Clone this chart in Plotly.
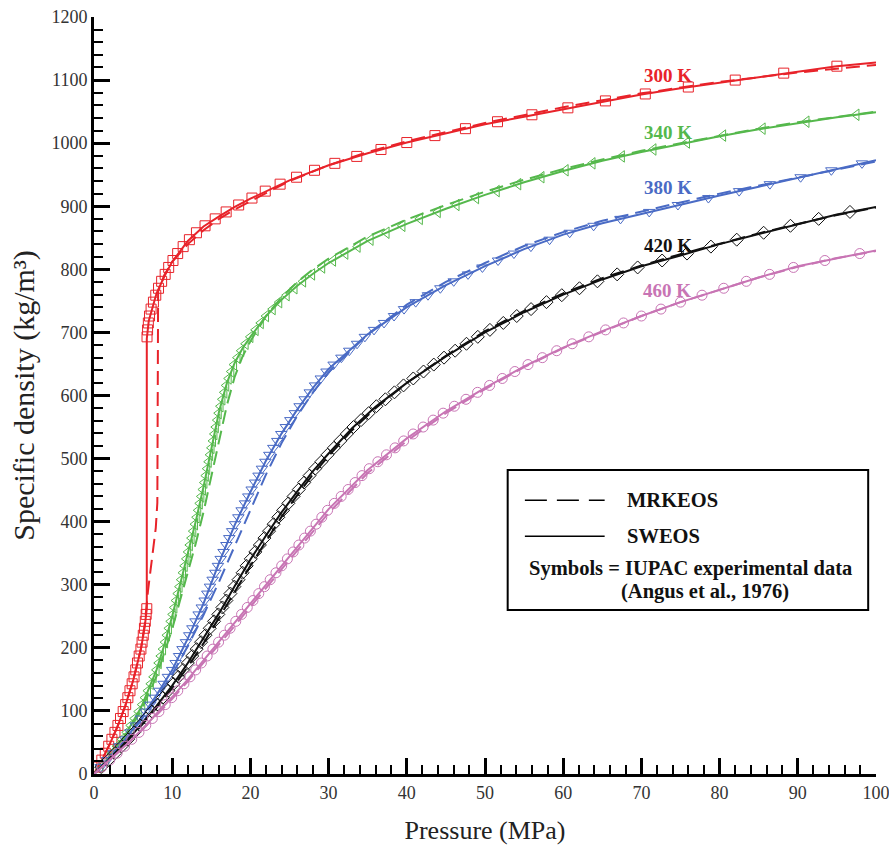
import plotly.graph_objects as go

# ---------------- data ----------------
TEMPS = ["300 K", "340 K", "380 K", "420 K", "460 K"]
COLORS = ["#e8232a", "#55b84c", "#4a6bc5", "#111111", "#c874b4"]
SYMBOLS = ["square-open", "triangle-left-open", "triangle-down-open", "diamond-open", "circle-open"]

# SWEOS (solid lines): pressure (MPa), density (kg/m3)
SW_P_300 = [0, 1, 2, 3, 4, 5, 6, 6.5, 6.75, 6.75, 7, 8, 9, 10, 12, 14, 16, 18, 20, 25, 30, 35, 40, 45, 50, 55, 60, 65, 70, 75, 80, 85, 90, 95, 100]
SW_R_300 = [0, 22, 47, 75, 108, 148, 198, 235, 262, 690, 718, 762, 789, 812, 845, 868, 884, 899, 912, 941, 965, 984, 1001, 1016, 1030, 1042, 1054, 1066, 1077, 1087, 1096, 1105, 1114, 1122, 1128]
SW_P_340 = [0, 2, 4, 6, 8, 9, 10, 11, 12, 13, 14, 15, 16, 17, 18, 19, 20, 22, 24, 26, 28, 30, 35, 40, 45, 50, 55, 60, 65, 70, 75, 80, 85, 90, 95, 100]
SW_R_340 = [0, 28, 62, 105, 165, 205, 250, 300, 350, 400, 455, 515, 575, 620, 652, 675, 693, 726, 752, 774, 793, 810, 845, 872, 896, 918, 938, 956, 972, 986, 999, 1011, 1022, 1032, 1041, 1049]
SW_P_380 = [0, 2, 4, 6, 8, 10, 12, 14, 16, 18, 20, 22, 24, 26, 28, 30, 35, 40, 45, 50, 55, 60, 65, 70, 75, 80, 85, 90, 95, 100]
SW_R_380 = [0, 26, 55, 88, 125, 165, 215, 270, 335, 395, 447, 497, 540, 578, 612, 642, 697, 740, 775, 805, 832, 855, 873, 888, 903, 917, 931, 945, 959, 973]
SW_P_420 = [0, 2, 4, 6, 8, 10, 12, 14, 16, 18, 20, 22, 24, 26, 28, 30, 33, 36, 40, 45, 50, 55, 60, 65, 70, 75, 80, 85, 90, 95, 100]
SW_R_420 = [0, 24, 50, 78, 108, 140, 176, 215, 255, 298, 340, 378, 415, 448, 480, 508, 548, 582, 620, 662, 700, 732, 760, 784, 805, 822, 840, 856, 872, 887, 899]
SW_P_460 = [0, 2, 4, 6, 8, 10, 12, 14, 16, 18, 20, 22, 24, 26, 28, 30, 35, 40, 45, 50, 55, 60, 65, 70, 75, 80, 85, 90, 95, 100]
SW_R_460 = [0, 22, 45, 69, 95, 122, 150, 180, 210, 240, 270, 300, 330, 360, 390, 420, 482, 532, 575, 612, 646, 676, 702, 726, 748, 768, 787, 805, 818, 830]

# MRKEOS (dashed lines)
MRK_P_300 = [0, 1, 2, 3, 4, 5, 6, 6.5, 6.9, 7.5, 7.9, 8.1, 8.12, 8.2, 9, 10, 12, 14, 16, 18, 20, 25, 30, 35, 40, 45, 50, 60, 70, 80, 90, 100]
MRK_R_300 = [0, 22, 47, 75, 108, 148, 198, 238, 290, 345, 390, 430, 700, 765, 791, 812, 840, 862, 880, 895, 908, 940, 965, 986, 1003, 1018, 1032, 1057, 1079, 1097, 1112, 1124]
MRK_P_340 = [0, 2, 4, 6, 8, 10, 11, 12, 13, 14, 15, 16, 17, 18, 19, 20, 22, 24, 26, 28, 30, 35, 40, 45, 50, 55, 60, 65, 70, 75, 80, 85, 90, 95, 100]
MRK_R_340 = [0, 27, 60, 100, 155, 230, 275, 320, 365, 415, 470, 530, 585, 630, 662, 686, 726, 756, 780, 800, 817, 852, 879, 902, 923, 942, 959, 974, 988, 1000, 1012, 1023, 1033, 1042, 1050]
MRK_P_380 = [0, 2, 4, 6, 8, 10, 12, 14, 16, 18, 20, 22, 24, 26, 28, 30, 35, 40, 45, 50, 55, 60, 65, 70, 75, 80, 85, 90, 95, 100]
MRK_R_380 = [0, 25, 53, 85, 120, 158, 203, 252, 305, 362, 420, 475, 525, 568, 605, 637, 697, 744, 780, 810, 837, 859, 877, 892, 906, 920, 933, 946, 959, 971]
MRK_P_420 = [0, 2, 4, 6, 8, 10, 12, 14, 16, 18, 20, 22, 24, 26, 28, 30, 33, 36, 40, 45, 50, 55, 60, 65, 70, 75, 80, 85, 90, 95, 100]
MRK_R_420 = [0, 24, 49, 76, 105, 136, 170, 207, 247, 289, 330, 370, 408, 442, 475, 504, 545, 580, 620, 663, 702, 734, 762, 786, 806, 824, 841, 857, 872, 886, 898]
MRK_P_460 = [0, 2, 4, 6, 8, 10, 12, 14, 16, 18, 20, 22, 24, 26, 28, 30, 35, 40, 45, 50, 55, 60, 65, 70, 75, 80, 85, 90, 95, 100]
MRK_R_460 = [0, 22, 44, 68, 93, 119, 147, 176, 205, 235, 265, 295, 325, 355, 385, 414, 477, 528, 572, 610, 645, 675, 701, 726, 748, 768, 787, 804, 818, 829]

# IUPAC experimental data (symbols): (pressure MPa, density kg/m3)
EXP_300 = [(0.5, 11), (1.0, 22), (1.44, 33), (1.88, 44), (2.29, 55), (2.68, 66), (3.06, 77), (3.39, 88), (3.73, 99),
           (4.05, 110), (4.33, 121), (4.6, 132), (4.88, 143), (5.12, 154), (5.34, 165), (5.56, 176), (5.78, 187),
           (6.0, 198), (6.15, 209), (6.3, 220), (6.45, 231), (6.56, 242), (6.67, 253), (6.75, 262),
           (6.78, 693), (6.85, 704), (6.95, 715), (7.1, 726), (7.3, 737), (7.6, 748), (7.9, 759), (8.25, 770),
           (8.65, 781), (9.1, 792), (9.55, 803), (10.1, 814), (10.7, 825), (11.4, 836), (12.2, 847), (13.1, 858),
           (14.2, 869), (15.5, 880), (16.9, 891), (18.5, 902), (20.2, 913), (21.9, 924), (23.8, 935), (25.9, 946),
           (28.2, 957), (30.8, 968), (33.6, 979), (36.7, 990), (40.0, 1001), (43.6, 1012), (47.5, 1023),
           (51.6, 1034), (56.0, 1045), (60.6, 1056), (65.4, 1067), (70.5, 1078), (76.0, 1089), (82.0, 1100),
           (88.2, 1111), (95.0, 1122)]
EXP_340 = [(0.79, 11), (1.57, 22), (2.29, 33), (2.94, 44), (3.59, 55), (4.19, 66), (4.7, 77), (5.21, 88), (5.72, 99),
           (6.17, 110), (6.53, 121), (6.9, 132), (7.27, 143), (7.63, 154), (8.0, 165), (8.28, 176), (8.55, 187),
           (8.83, 198), (9.09, 209), (9.33, 220), (9.58, 231), (9.82, 242), (10.06, 253), (10.28, 264), (10.5, 275),
           (10.72, 286), (10.94, 297), (11.16, 308), (11.38, 319), (11.6, 330), (11.82, 341), (12.04, 352),
           (12.26, 363), (12.48, 374), (12.7, 385), (12.92, 396), (13.13, 407), (13.33, 418), (13.53, 429),
           (13.73, 440), (13.93, 451), (14.12, 462), (14.3, 473), (14.48, 484), (14.67, 495), (14.85, 506),
           (15.03, 517), (15.22, 528), (15.4, 539), (15.58, 550), (15.77, 561), (15.95, 572), (16.18, 583),
           (16.42, 594), (16.67, 605), (16.91, 616), (17.22, 627), (17.56, 638), (17.91, 649), (18.35, 660),
           (18.83, 671), (19.39, 682), (20.0, 693), (20.67, 704), (21.33, 715), (22.0, 726), (22.85, 737),
           (23.69, 748), (24.64, 759), (25.64, 770), (26.74, 781), (27.89, 792), (29.18, 803), (30.57, 814),
           (32.14, 825), (33.71, 836), (35.37, 847), (37.41, 858), (39.44, 869), (41.67, 880), (43.96, 891),
           (46.36, 902), (48.86, 913), (51.5, 924), (54.25, 935), (57.22, 946), (60.31, 957), (63.75, 968),
           (67.5, 979), (71.54, 990), (75.83, 1001), (80.45, 1012), (85.5, 1023), (91.11, 1034), (97.5, 1045)]
EXP_380 = [(0.85, 11), (1.69, 22), (2.48, 33), (3.24, 44), (4.0, 55), (4.67, 66), (5.33, 77), (6.0, 88), (6.59, 99),
           (7.19, 110), (7.78, 121), (8.35, 132), (8.9, 143), (9.45, 154), (10.0, 165), (10.44, 176), (10.88, 187),
           (11.32, 198), (11.76, 209), (12.18, 220), (12.58, 231), (12.98, 242), (13.38, 253), (13.78, 264),
           (14.15, 275), (14.49, 286), (14.83, 297), (15.17, 308), (15.51, 319), (15.85, 330), (16.2, 341),
           (16.57, 352), (16.93, 363), (17.3, 374), (17.67, 385), (18.04, 396), (18.46, 407), (18.88, 418),
           (19.31, 429), (19.73, 440), (20.16, 451), (20.6, 462), (21.04, 473), (21.48, 484), (21.92, 495),
           (22.42, 506), (22.93, 517), (23.44, 528), (23.95, 539), (24.53, 550), (25.11, 561), (25.68, 572),
           (26.29, 583), (26.94, 594), (27.59, 605), (28.27, 616), (29.0, 627), (29.73, 638), (30.64, 649),
           (31.64, 660), (32.64, 671), (33.64, 682), (34.64, 693), (35.81, 704), (37.09, 715), (38.37, 726),
           (39.65, 737), (41.14, 748), (42.71, 759), (44.29, 770), (46.0, 781), (47.83, 792), (49.67, 803),
           (51.67, 814), (53.7, 825), (55.87, 836), (58.26, 847), (60.83, 858), (63.89, 869), (67.33, 880),
           (71.0, 891), (74.67, 902), (78.57, 913), (82.5, 924), (86.43, 935), (90.36, 946), (94.29, 957),
           (98.21, 968)]
EXP_420 = [(0.92, 11), (1.83, 22), (2.69, 33), (3.54, 44), (4.36, 55), (5.14, 66), (5.93, 77), (6.67, 88), (7.4, 99),
           (8.13, 110), (8.81, 121), (9.5, 132), (10.17, 143), (10.78, 154), (11.39, 165), (12.0, 176), (12.56, 187),
           (13.13, 198), (13.69, 209), (14.25, 220), (14.8, 231), (15.35, 242), (15.9, 253), (16.42, 264),
           (16.93, 275), (17.44, 286), (17.95, 297), (18.48, 308), (19.0, 319), (19.52, 330), (20.05, 341),
           (20.63, 352), (21.21, 363), (21.79, 374), (22.38, 385), (22.97, 396), (23.57, 407), (24.18, 418),
           (24.85, 429), (25.52, 440), (26.19, 451), (26.88, 462), (27.56, 473), (28.29, 484), (29.07, 495),
           (29.86, 506), (30.68, 517), (31.5, 528), (32.33, 539), (33.18, 550), (34.15, 561), (35.12, 572),
           (36.11, 583), (37.26, 594), (38.42, 605), (39.58, 616), (40.83, 627), (42.14, 638), (43.45, 649),
           (44.76, 660), (46.18, 671), (47.63, 682), (49.08, 693), (50.63, 704), (52.34, 715), (54.06, 726),
           (55.89, 737), (57.86, 748), (59.82, 759), (62.08, 770), (64.38, 781), (66.9, 792), (69.52, 803),
           (72.65, 814), (75.83, 825), (78.89, 836), (82.19, 847), (85.63, 858), (89.06, 869), (92.67, 880),
           (96.67, 891)]
EXP_460 = [(1.0, 11), (2.0, 22), (2.96, 33), (3.91, 44), (4.83, 55), (5.75, 66), (6.62, 77), (7.46, 88), (8.3, 99),
           (9.11, 110), (9.93, 121), (10.71, 132), (11.5, 143), (12.27, 154), (13.0, 165), (13.73, 176), (14.47, 187),
           (15.2, 198), (15.93, 209), (16.67, 220), (17.4, 231), (18.13, 242), (18.87, 253), (19.6, 264),
           (20.33, 275), (21.07, 286), (21.8, 297), (22.53, 308), (23.27, 319), (24.0, 330), (24.73, 341),
           (25.47, 352), (26.2, 363), (26.93, 374), (27.67, 385), (28.4, 396), (29.13, 407), (29.87, 418),
           (30.73, 429), (31.61, 440), (32.5, 451), (33.39, 462), (34.27, 473), (35.2, 484), (36.3, 495),
           (37.4, 506), (38.5, 517), (39.6, 528), (40.81, 539), (42.09, 550), (43.37, 561), (44.65, 572),
           (46.08, 583), (47.57, 594), (49.05, 605), (50.59, 616), (52.21, 627), (53.82, 638), (55.5, 649),
           (57.33, 660), (59.17, 671), (61.15, 682), (63.27, 693), (65.42, 704), (67.71, 715), (70.0, 726),
           (72.5, 737), (75.0, 748), (77.75, 759), (80.53, 770), (83.42, 781), (86.39, 792), (89.44, 803),
           (93.46, 814), (97.92, 825)]

# label positions (data coordinates) for the isotherm tags
LABEL_X = [70.1, 70.1, 70.1, 70.1, 70.0]
LABEL_Y = [1108, 1017, 930, 838, 767]

SW_P = [SW_P_300, SW_P_340, SW_P_380, SW_P_420, SW_P_460]
SW_R = [SW_R_300, SW_R_340, SW_R_380, SW_R_420, SW_R_460]
MRK_P = [MRK_P_300, MRK_P_340, MRK_P_380, MRK_P_420, MRK_P_460]
MRK_R = [MRK_R_300, MRK_R_340, MRK_R_380, MRK_R_420, MRK_R_460]
EXP = [EXP_300, EXP_340, EXP_380, EXP_420, EXP_460]

SERIF = "Liberation Serif, Times New Roman, serif"

fig = go.Figure()
for i, t in enumerate(TEMPS):
    c = COLORS[i]
    fig.add_trace(go.Scatter(x=MRK_P[i], y=MRK_R[i], mode="lines", name=t + " MRKEOS",
                             line=dict(color=c, width=2, dash="14px,7px")))
    fig.add_trace(go.Scatter(x=SW_P[i], y=SW_R[i], mode="lines", name=t + " SWEOS",
                             line=dict(color=c, width=2)))
    px = [p for p, r in EXP[i]]
    pr = [r for p, r in EXP[i]]
    fig.add_trace(go.Scatter(x=px, y=pr, mode="markers", name=t + " IUPAC",
                             marker=dict(symbol=SYMBOLS[i], size=10, color=c, line=dict(width=1, color=c))))
    fig.add_annotation(x=LABEL_X[i], y=LABEL_Y[i], text=t, showarrow=False, xanchor="left", yanchor="middle",
                       font=dict(family=SERIF, size=19, color=c, weight="bold"))

# legend box drawn inside the plot
fig.add_shape(type="rect", x0=52.9, x1=99.0, y0=260, y1=482, xref="x", yref="y",
              line=dict(color="black", width=2), fillcolor="white", layer="above")
fig.add_shape(type="line", x0=55.1, x1=65.3, y0=434, y1=434, xref="x", yref="y",
              line=dict(color="black", width=1.5, dash="22px,10px"), layer="above")
fig.add_shape(type="line", x0=55.1, x1=65.3, y0=377, y1=377, xref="x", yref="y",
              line=dict(color="black", width=1.5), layer="above")
legend_font = dict(family=SERIF, size=20.5, color="#111", weight="bold")
fig.add_annotation(x=67.9, y=434, text="MRKEOS", showarrow=False, xanchor="left", yanchor="middle", font=legend_font)
fig.add_annotation(x=67.9, y=377, text="SWEOS", showarrow=False, xanchor="left", yanchor="middle", font=legend_font)
fig.add_annotation(x=55.4, y=326, text="Symbols = IUPAC experimental data", showarrow=False,
                   xanchor="left", yanchor="middle", font=legend_font)
fig.add_annotation(x=78.1, y=290, text="(Angus et al., 1976)", showarrow=False,
                   xanchor="center", yanchor="middle", font=legend_font)

axis_common = dict(showline=True, linewidth=3, linecolor="black", showgrid=False, zeroline=False,
                   automargin=False,
                   ticks="inside", ticklen=16, tickwidth=3, tickcolor="black", ticklabeloverflow="allow",
                   tickfont=dict(family=SERIF, size=18, color="#333"))
fig.update_xaxes(range=[0, 100], tick0=0, dtick=10,
                 minor=dict(ticks="inside", ticklen=9, tickwidth=1.5, tickcolor="black", dtick=2, showgrid=False),
                 title=dict(text="Pressure (MPa)", font=dict(family=SERIF, size=26, color="#222"), standoff=20),
                 **axis_common)
fig.update_yaxes(range=[0, 1200], tick0=0, dtick=100,
                 minor=dict(ticks="inside", ticklen=9, tickwidth=1.5, tickcolor="black", dtick=20, showgrid=False),
                 title=dict(text="Specific density (kg/m³)", font=dict(family=SERIF, size=30, color="#222"), standoff=8),
                 **axis_common)

fig.update_layout(width=889, height=857, margin=dict(l=94, r=13, t=17, b=83, autoexpand=False),
                  paper_bgcolor="white", plot_bgcolor="white", showlegend=False)

fig.write_html("out.html")
